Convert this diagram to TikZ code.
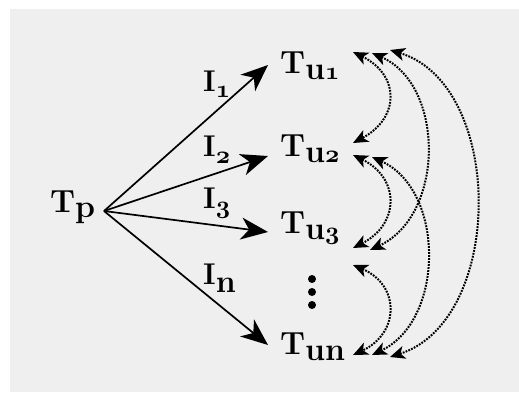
\documentclass[tikz,border=0pt]{standalone}
\usetikzlibrary{arrows.meta}
\definecolor{bg}{HTML}{EFEFEF}
\newcommand\osdig[1]{{\usefont{OML}{cmm}{b}{it}#1}}
\newcommand\lowtxt[2][-6pt]{\raisebox{#1}{\fontsize{32}{36}\selectfont\bfseries #2}}
\begin{document}
\begin{tikzpicture}[x=1pt,y=-1pt,
  lbl/.style={font=\fontsize{32}{38}\selectfont\bfseries, inner sep=0pt, anchor=base west},
  ilbl/.style={font=\fontsize{30}{36}\selectfont\bfseries, inner sep=0pt, anchor=base west},
  mainarrow/.style={line width=1.7pt, -{Stealth[length=27pt,width=22pt,inset=8pt]}},
  dotarrow/.style={line width=2pt, dash pattern=on 1.8pt off 1.2pt,
    {Stealth[length=15pt,width=13pt,inset=4pt]}-{Stealth[length=15pt,width=13pt,inset=4pt]}},
  dotfill/.style={fill=black, circle, inner sep=0pt, minimum size=8pt}
]
\useasboundingbox (0,0) rectangle (519,392);
\fill[white] (0,0) rectangle (519,392);
\fill[bg] (10,9) rectangle (519,392);

% nodes
\node[lbl] (Tp) at (50,212) {T\lowtxt[-5pt]{p}};
\node[lbl] (Tu1) at (280,73) {T\lowtxt{u\osdig{1}}};
\node[lbl] (Tu2) at (280,156) {T\lowtxt{u\osdig{2}}};
\node[lbl] (Tu3) at (280,233) {T\lowtxt{u\osdig{3}}};
\node[lbl] (Tun) at (280,354) {T\lowtxt{un}};
\node[dotfill] (d1) at (312,279) {};
\node[dotfill] (d2) at (312,292) {};
\node[dotfill] (d3) at (312,305) {};

\node[ilbl] (I1) at (203,91) {I\lowtxt[-6pt]{\osdig{1}}};
\node[ilbl] (I2) at (203,156) {I\lowtxt[-7pt]{\osdig{2}}};
\node[ilbl] (I3) at (203,208) {I\lowtxt[-5pt]{\osdig{3}}};
\node[ilbl] (In) at (203,284) {I\lowtxt[-8pt]{n}};

% main arrows
\coordinate (o) at (104,211);
\draw[mainarrow] (o) -- ([xshift=-12pt,yshift=8pt]Tu1.base west);
\draw[mainarrow] (o) -- ([xshift=-12pt,yshift=0pt]Tu2.base west);
\draw[mainarrow] (o) -- ([xshift=-12pt,yshift=1pt]Tu3.base west);
\draw[mainarrow] (o) -- ([xshift=-12pt,yshift=9pt]Tun.base west);

% dotted arc end points
\coordinate (a1) at (353,52);
\coordinate (b1) at (372,53);
\coordinate (c1) at (390,50);
\coordinate (a2) at (353,143);
\coordinate (a2b) at (353,155);
\coordinate (b2) at (372,157);
\coordinate (a3) at (353,248);
\coordinate (b3) at (370,250);
\coordinate (ad) at (353,265);
\coordinate (an) at (353,355);
\coordinate (bn) at (372,355);
\coordinate (cn) at (390,357);

\draw[dotarrow] (a1) .. controls (400,75) and (400,118) .. (a2);
\draw[dotarrow] (a2b) .. controls (400,178) and (400,224) .. (a3);
\draw[dotarrow] (ad) .. controls (400,285) and (400,333) .. (an);
\draw[dotarrow] (b1) .. controls (445,85) and (445,215) .. (b3);
\draw[dotarrow] (b2) .. controls (445,190) and (445,320) .. (bn);
\draw[dotarrow] (c1) .. controls (505,85) and (505,320) .. (cn);
\end{tikzpicture}
\end{document}
